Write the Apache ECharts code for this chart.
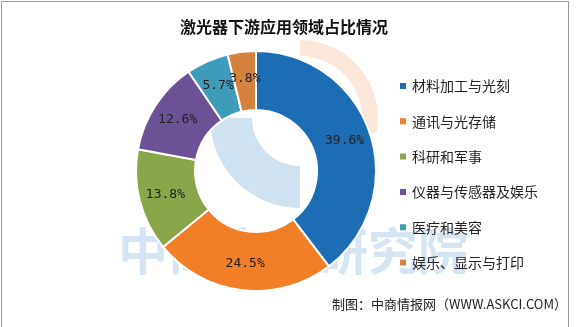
<!DOCTYPE html>
<html><head><meta charset="utf-8">
<script src="https://cdn.jsdelivr.net/npm/echarts@6/dist/echarts.min.js"></script>
<style>html,body{margin:0;padding:0;background:#fff}#c{width:581px;height:327px}</style>
</head><body><div id="c"></div>
<script>
var categories = ['材料加工与光刻','通讯与光存储','科研和军事','仪器与传感器及娱乐','医疗和美容','娱乐、显示与打印'];
var values = [39.6, 24.5, 13.8, 12.6, 5.7, 3.8];
var colors = ['#1d6db4','#f27e27','#8aa64a','#6b5195','#3e9bba','#d5823f'];
var titleText = '激光器下游应用领域占比情况';
var sourceText = '制图：中商情报网（WWW.ASKCI.COM）';
var watermark = '中商产业研究院';

var chart = echarts.init(document.getElementById('c'), null, {renderer:'canvas'});
chart.setOption({
  animation:false,
  backgroundColor:'#fff',
  color: colors,
  title:{text:titleText, left:279, top:14, textAlign:'center',
    textStyle:{fontFamily:'Noto Sans CJK SC', fontSize:16, fontWeight:'bold', color:'#111'}},
  legend:{orient:'vertical', left:393, top:71, icon:'rect', itemWidth:8, itemHeight:8,
    itemGap:15.3, textStyle:{fontFamily:'Noto Sans CJK SC', fontSize:14, color:'#222', lineHeight:20},
    data:categories},
  graphic:[
    {type:'rect', z:-10, shape:{x:1.5, y:1.5, width:567, height:330}, style:{fill:'#fff', stroke:'#9a9a9a', lineWidth:1}},
    {type:'sector', z:-5, shape:{cx:300, cy:118, r0:48, r:90, startAngle:Math.PI/2, endAngle:Math.PI}, style:{fill:'rgba(170,200,228,0.55)'}},
    {type:'sector', z:-5, shape:{cx:300, cy:118, r0:62, r:78, startAngle:-Math.PI/2, endAngle:0.2}, style:{fill:'rgba(245,190,150,0.35)'}},
    {type:'text', right:14, top:298, style:{text:sourceText, font:'13px "Noto Sans CJK SC"', fill:'#222'}},
    {type:'text', left:118, top:226, z:-4, style:{text:watermark, font:'bold 50px "Noto Sans CJK SC"', fill:'rgba(120,170,215,0.3)'}}
  ],
  series:[{
    type:'pie', center:[256,171], radius:[61,120], startAngle:90, clockwise:true,
    itemStyle:{borderColor:'#fff', borderWidth:2},
    label:{show:true, position:'inside', formatter:function(p){return p.value.toFixed(1)+'%';},
      fontFamily:'DejaVu Sans Mono', fontSize:13, color:'#222'},
    labelLayout:{hideOverlap:false},
    labelLine:{show:false},
    data: categories.map(function(c,i){return {name:c, value:values[i]};})
  }]
});
</script></body></html>
